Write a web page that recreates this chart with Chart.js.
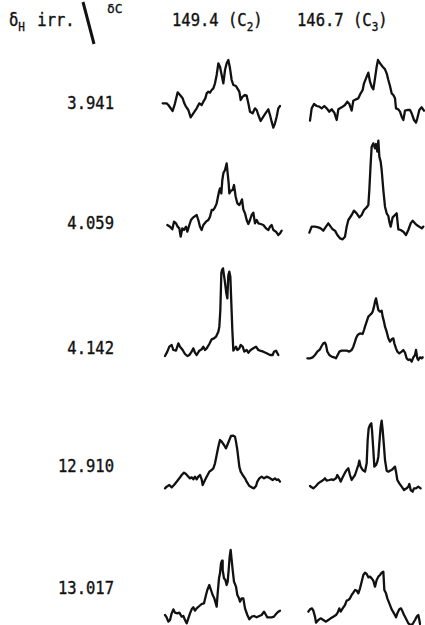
<!DOCTYPE html>
<html><head><meta charset="utf-8">
<script src="https://cdn.jsdelivr.net/npm/chart.js@4"></script>
<style>
html,body{margin:0;padding:0;background:#fff;width:425px;height:625px;overflow:hidden;position:relative;font-family:"DejaVu Sans Mono",monospace;color:#111}
.t{position:absolute;font-size:15.5px;line-height:16px;white-space:pre;-webkit-text-stroke:0.35px #111;transform:scaleY(1.12);transform-origin:0 50%}
.r{text-align:right;width:110px;left:4px;transform-origin:100% 50%}
canvas{position:absolute}
.sub{font-size:11px;position:relative;top:4px}
.sup{position:absolute;font-size:13px;line-height:13px;white-space:pre;-webkit-text-stroke:0.3px #111}
</style></head><body>
<script>
// Row labels: irradiated proton shifts (ppm); column headers: observed carbons
const protonShifts = ['3.941', '4.059', '4.142', '12.910', '13.017'];
const carbonShifts = ['149.4', '146.7'];
const carbonLabels = ['2', '3'];

// Traces: [relative frequency offset, intensity]
const c2_3941 = [[38,80],[50,80],[55,75],[68,57],[75,80],[83,113],[90,105],[98,95],[103,80],[108,70],[115,60],[122,38],[130,50],[140,65],[148,80],[155,75],[160,85],[166,95],[170,110],[175,115],[180,112],[185,120],[190,125],[195,140],[200,165],[205,200],[210,190],[215,165],[220,140],[225,180],[230,200],[235,210],[240,185],[245,150],[250,135],[258,132],[262,125],[268,115],[272,90],[278,100],[285,105],[290,103],[295,80],[300,55],[308,50],[315,65],[320,60],[325,45],[332,27],[340,40],[350,55],[355,62],[360,45],[365,25],[370,7],[375,20],[380,40],[385,65],[390,72]];
const c3_3941 = [[60,28],[65,65],[72,78],[80,72],[88,70],[95,65],[103,72],[110,65],[118,55],[125,62],[133,52],[140,30],[145,62],[155,68],[165,75],[172,85],[178,78],[185,58],[190,88],[198,92],[205,95],[212,110],[218,120],[222,140],[228,155],[235,172],[240,145],[245,130],[250,122],[255,155],[260,190],[264,210],[270,200],[278,190],[285,182],[290,170],[295,150],[300,132],[305,110],[310,105],[315,95],[318,65],[325,62],[330,55],[335,40],[340,30],[345,58],[352,60],[360,60],[365,50],[372,30],[378,22],[382,35],[388,60],[395,68],[402,58]];
const c2_4059 = [[52,75],[60,70],[67,62],[72,85],[78,80],[83,70],[88,65],[92,40],[97,65],[102,60],[108,70],[112,55],[118,75],[123,90],[130,98],[140,105],[145,90],[150,70],[155,60],[160,75],[168,85],[175,90],[180,100],[185,120],[190,120],[195,128],[200,140],[203,155],[207,175],[210,185],[214,170],[217,210],[220,230],[225,240],[230,260],[233,230],[236,200],[238,170],[243,178],[248,180],[252,195],[257,160],[262,140],[268,135],[272,142],[276,152],[280,122],[285,110],[290,90],[295,78],[300,90],[305,105],[310,112],[315,80],[320,90],[325,80],[332,78],[340,75],[348,65],[355,60],[360,70],[365,75],[370,60],[378,55],[385,45],[390,50],[395,58]];
const c3_4059 = [[58,52],[65,70],[75,70],[85,68],[92,65],[100,58],[108,70],[115,80],[122,70],[128,62],[135,58],[142,45],[150,35],[158,32],[165,40],[170,70],[175,90],[185,105],[192,118],[200,110],[208,98],[215,105],[222,120],[230,128],[235,135],[238,180],[242,260],[245,310],[250,320],[255,305],[258,318],[262,295],[265,328],[268,280],[272,265],[275,240],[280,180],[285,130],[290,110],[295,102],[298,85],[302,70],[308,98],[315,105],[320,110],[325,62],[332,60],[340,55],[348,45],[355,60],[362,80],[368,88],[375,80],[380,75],[388,70],[395,65],[400,70]];
const c2_4142 = [[45,42],[52,55],[58,70],[65,75],[70,60],[78,58],[85,80],[90,70],[98,60],[105,48],[112,42],[118,45],[125,55],[130,65],[135,52],[140,45],[148,58],[155,62],[160,70],[165,60],[170,65],[178,78],[185,92],[192,95],[198,100],[205,115],[208,130],[211,180],[214,290],[216,300],[219,305],[224,270],[229,230],[232,215],[235,285],[238,295],[241,280],[244,200],[247,120],[250,58],[258,70],[262,60],[268,65],[272,75],[278,70],[283,55],[290,60],[295,52],[302,60],[310,65],[318,70],[325,60],[330,58],[340,55],[350,50],[360,45],[368,45],[372,55],[378,58],[385,45]];
const c3_4142 = [[52,35],[60,35],[68,38],[75,45],[82,55],[90,62],[95,72],[100,80],[105,82],[108,75],[112,55],[118,45],[125,40],[132,38],[138,35],[143,45],[148,55],[155,58],[162,58],[170,58],[178,55],[185,60],[190,70],[195,85],[198,95],[203,105],[210,110],[218,108],[222,120],[225,130],[230,145],[235,160],[240,165],[245,170],[248,175],[252,190],[255,205],[258,215],[262,195],[265,180],[270,175],[275,178],[278,160],[282,145],[285,130],[290,115],[295,95],[300,85],[305,92],[310,95],[313,80],[318,65],[322,55],[328,50],[335,55],[340,60],[345,52],[350,35],[355,30],[360,32],[365,25],[370,38],[375,45],[378,60],[382,35],[385,30],[390,38],[395,35],[398,38]];
const c2_12910 = [[45,5],[50,10],[58,15],[65,8],[72,15],[80,25],[88,35],[95,45],[102,52],[108,48],[115,40],[120,35],[125,38],[130,32],[135,40],[140,32],[145,40],[150,45],[155,32],[158,15],[165,30],[170,40],[178,55],[185,60],[190,65],[195,80],[200,105],[205,130],[210,150],[215,145],[222,135],[228,125],[232,135],[238,150],[243,162],[250,163],[255,160],[258,145],[262,120],[265,95],[268,70],[272,55],[278,45],[285,35],[290,25],[298,12],[305,8],[312,5],[318,12],[322,25],[328,35],[335,40],[342,35],[350,40],[355,38],[360,35],[368,30],[375,35],[380,30],[385,32],[390,25]];
const c3_12910 = [[60,12],[65,8],[70,5],[78,12],[85,20],[92,25],[100,30],[105,35],[110,28],[118,30],[125,32],[130,30],[138,35],[142,45],[148,35],[152,25],[158,38],[165,52],[170,60],[175,65],[180,45],[185,30],[190,38],[195,45],[200,60],[205,75],[208,88],[212,70],[218,60],[225,55],[230,80],[233,150],[236,185],[240,195],[244,200],[246,180],[250,120],[253,70],[258,75],[262,85],[265,100],[268,140],[272,190],[275,208],[278,180],[282,130],[285,90],[290,58],[295,55],[300,58],[305,60],[310,65],[315,70],[318,55],[322,30],[328,20],[335,10],[342,0],[350,5],[355,10],[358,18],[362,0],[368,-5],[372,5],[378,5],[385,10],[392,5]];
const c2_13017 = [[45,30],[50,23],[55,10],[60,15],[65,35],[70,47],[75,37],[82,35],[88,37],[95,25],[100,27],[105,15],[110,5],[115,20],[120,35],[125,47],[130,53],[135,43],[140,50],[148,57],[155,63],[162,65],[168,90],[172,105],[178,120],[183,105],[188,90],[193,80],[200,55],[203,95],[207,140],[210,155],[213,185],[216,193],[218,165],[222,140],[226,135],[230,120],[233,130],[236,165],[239,205],[242,225],[245,195],[248,165],[252,130],[258,115],[262,90],[267,80],[270,70],[275,80],[280,80],[285,50],[292,30],[298,17],[305,25],[312,27],[320,23],[328,27],[335,30],[342,40],[348,30],[352,23],[358,23],[365,23],[372,25],[378,33],[385,40],[390,43]];
const c3_13017 = [[55,40],[60,47],[66,50],[70,43],[75,25],[78,7],[85,15],[92,20],[100,15],[108,10],[115,15],[122,20],[130,25],[138,30],[143,37],[148,50],[152,40],[158,50],[165,60],[170,73],[175,75],[180,80],[185,90],[190,97],[195,105],[200,103],[205,95],[210,110],[215,130],[220,150],[225,157],[230,153],[235,143],[240,145],[245,140],[250,133],[255,115],[260,135],[265,145],[270,150],[275,157],[280,160],[283,105],[288,95],[292,80],[298,65],[305,47],[312,35],[318,23],[322,35],[328,47],[333,50],[338,40],[342,30],[345,25],[350,15],[355,5],[362,0],[368,3],[375,15],[380,25],[385,30],[388,15],[390,3]];

// Layout of each small panel (position/size on page, px)
const panels = [
  {trace:c2_3941,  left:150, top:50,  w:140, h:80},
  {trace:c3_3941,  left:290, top:50,  w:135, h:80},
  {trace:c2_4059,  left:150, top:160, w:140, h:90},
  {trace:c3_4059,  left:290, top:130, w:135, h:120},
  {trace:c2_4142,  left:150, top:260, w:140, h:110},
  {trace:c3_4142,  left:290, top:280, w:135, h:90},
  {trace:c2_12910, left:150, top:400, w:140, h:90},
  {trace:c3_12910, left:290, top:400, w:135, h:90},
  {trace:c2_13017, left:150, top:520, w:140, h:105},
  {trace:c3_13017, left:290, top:520, w:135, h:105}
];
const labelTops = [95, 215, 340, 458, 580];
</script>

<div class="t" style="left:9px;top:13px">δ<span class="sub">H</span> <span style="margin-left:3px">irr.</span></div>
<div class="sup" style="left:107px;top:2px">δC</div>
<svg style="position:absolute;left:0;top:0" width="120" height="60"><line x1="83" y1="2" x2="94" y2="44" stroke="#111" stroke-width="3"/></svg>
<div id="hdr"></div>
<div id="rows"></div>

<script>
const hdrX = [172, 297];
const hdr = document.getElementById('hdr');
carbonShifts.forEach((s, i) => {
  const d = document.createElement('div');
  d.className = 't';
  d.style.left = hdrX[i] + 'px';
  d.style.top = '13px';
  d.innerHTML = s + ' (C<span class="sub">' + carbonLabels[i] + '</span>)';
  hdr.appendChild(d);
});
const rows = document.getElementById('rows');
protonShifts.forEach((s, i) => {
  const d = document.createElement('div');
  d.className = 't r';
  d.style.top = labelTops[i] + 'px';
  d.textContent = s;
  rows.appendChild(d);
});

const PAD = 6;
panels.forEach(p => {
  const cv = document.createElement('canvas');
  cv.width = p.w; cv.height = p.h + 2 * PAD;
  cv.style.left = p.left + 'px';
  cv.style.top = (p.top - PAD) + 'px';
  cv.style.width = p.w + 'px';
  cv.style.height = (p.h + 2 * PAD) + 'px';
  document.body.appendChild(cv);
  new Chart(cv, {
    type: 'scatter',
    data: { datasets: [{
      data: p.trace.map(q => ({x: q[0], y: q[1]})),
      showLine: true, borderColor: '#111', borderWidth: 2.3,
      pointRadius: 0, tension: 0, clip: false,
      borderJoinStyle: 'round', borderCapStyle: 'round'
    }]},
    options: {
      responsive: false, animation: false, devicePixelRatio: 1, events: [],
      layout: { padding: { top: PAD, bottom: PAD, left: 0, right: 0 } },
      plugins: { legend: { display: false }, tooltip: { enabled: false } },
      scales: {
        x: { type: 'linear', display: false, min: 0, max: p.w * 3 },
        y: { type: 'linear', display: false, min: 0, max: p.h * 3 }
      }
    }
  });
});
</script>
</body></html>
